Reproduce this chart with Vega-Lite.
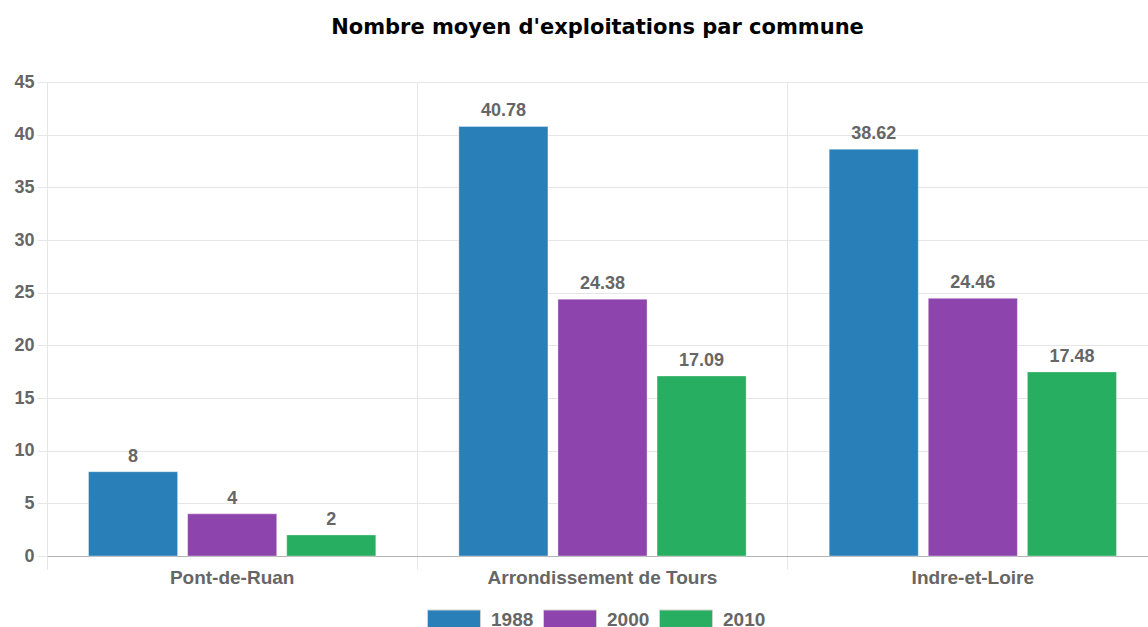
{
  "$schema": "https://vega.github.io/schema/vega-lite/v6.json",
  "autosize": "none",
  "width": 1101,
  "height": 474,
  "padding": {"left": 47, "top": 82, "right": 0, "bottom": 71},
  "background": "#ffffff",
  "title": {
    "text": "Nombre moyen d'exploitations par commune",
    "font": "DejaVu Sans",
    "fontWeight": "bold",
    "fontSize": 21,
    "color": "#000000",
    "anchor": "middle",
    "baseline": "alphabetic",
    "offset": 18
  },
  "data": {
    "values": [
      {"lieu": "Pont-de-Ruan", "annee": "1988", "valeur": 8},
      {"lieu": "Pont-de-Ruan", "annee": "2000", "valeur": 4},
      {"lieu": "Pont-de-Ruan", "annee": "2010", "valeur": 2},
      {"lieu": "Arrondissement de Tours", "annee": "1988", "valeur": 40.78},
      {"lieu": "Arrondissement de Tours", "annee": "2000", "valeur": 24.38},
      {"lieu": "Arrondissement de Tours", "annee": "2010", "valeur": 17.09},
      {"lieu": "Indre-et-Loire", "annee": "1988", "valeur": 38.62},
      {"lieu": "Indre-et-Loire", "annee": "2000", "valeur": 24.46},
      {"lieu": "Indre-et-Loire", "annee": "2010", "valeur": 17.48}
    ]
  },
  "encoding": {
    "x": {
      "field": "lieu",
      "type": "nominal",
      "sort": ["Pont-de-Ruan", "Arrondissement de Tours", "Indre-et-Loire"],
      "scale": {"paddingInner": 0, "paddingOuter": 0, "range": [0, 1111]},
      "axis": {
        "title": null,
        "labelAngle": 0,
        "bandPosition": 0,
        "grid": true,
        "gridColor": "#e6e6e6",
        "gridWidth": 1,
        "tickSize": 13,
        "tickColor": "#e6e6e6",
        "labelLimit": 500,
        "labelPadding": -1,
        "labelFont": "Liberation Sans",
        "labelFontWeight": "bold",
        "labelFontSize": 19,
        "labelColor": "#666666",
        "domainColor": "#b3b3b3",
        "domainWidth": 1
      }
    },
    "xOffset": {
      "field": "annee",
      "type": "nominal",
      "sort": ["1988", "2000", "2010"],
      "scale": {"paddingInner": 0.101, "paddingOuter": 0.419}
    },
    "y": {
      "field": "valeur",
      "type": "quantitative",
      "scale": {"domain": [0, 45], "nice": false},
      "axis": {
        "title": null,
        "values": [0, 5, 10, 15, 20, 25, 30, 35, 40, 45],
        "grid": true,
        "gridColor": "#e6e6e6",
        "tickColor": "#e6e6e6",
        "tickSize": 10,
        "domain": false,
        "labelPadding": 3,
        "labelFont": "Liberation Sans",
        "labelFontWeight": "bold",
        "labelFontSize": 18,
        "labelColor": "#666666"
      }
    }
  },
  "layer": [
    {
      "mark": {"type": "bar", "stroke": "#ffffff", "strokeOpacity": 0.35, "strokeWidth": 1},
      "encoding": {
        "color": {
          "field": "annee",
          "type": "nominal",
          "scale": {
            "domain": ["1988", "2000", "2010"],
            "range": ["#2980b9", "#8e44ad", "#27ae60"]
          },
          "legend": {
            "title": null,
            "orient": "none",
            "legendX": 380,
            "legendY": 511,
            "direction": "horizontal",
            "symbolType": "M-1,-0.377H1V0.377H-1Z",
            "symbolSize": 2809,
            "symbolStrokeColor": "#d0d0d0",
            "symbolStrokeWidth": 1,
            "symbolOpacity": 1,
            "labelOffset": 10,
            "columnPadding": 7,
            "labelFont": "Liberation Sans",
            "labelFontWeight": "bold",
            "labelFontSize": 19,
            "labelColor": "#666666"
          }
        }
      }
    },
    {
      "mark": {
        "type": "text",
        "baseline": "alphabetic",
        "dy": -10,
        "font": "Liberation Sans",
        "fontWeight": "bold",
        "fontSize": 18,
        "color": "#666666"
      },
      "encoding": {
        "text": {"field": "valeur", "type": "nominal"}
      }
    }
  ],
  "config": {
    "view": {"stroke": null}
  }
}
